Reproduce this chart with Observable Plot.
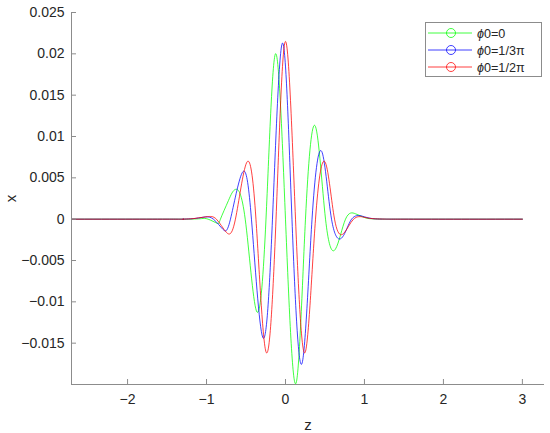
<!DOCTYPE html>
<html><head><meta charset="utf-8">
<script src="https://cdn.jsdelivr.net/npm/d3@7"></script>
<script src="https://cdn.jsdelivr.net/npm/@observablehq/plot@0.6"></script>
<style>
body{margin:0;background:#fff}
#wrap{position:relative;width:550px;height:433px;font-family:"Liberation Sans",Arial,sans-serif}
#legend{position:absolute;left:0;top:0}
</style>
</head><body><div id="wrap"></div>
<script>
const zDomain = [-2.71, 3.28];
const xDomain = [-0.02, 0.025];
const zTicks = [-2, -1, 0, 1, 2, 3];
const xTicks = [-0.015, -0.01, -0.005, 0, 0.005, 0.01, 0.015, 0.02, 0.025];
const seriesNames = ["ϕ0=0", "ϕ0=1/3π", "ϕ0=1/2π"];
const seriesColors = ["#00ff00", "#0000ff", "#ff0000"];

const zGreen = [-3, -1.5, -1.25, -1.15, -1.06, -0.98, -0.866, -0.824, -0.722, -0.634, -0.51, -0.368, -0.247, -0.127, 0.0, 0.131, 0.253, 0.380, 0.507, 0.634, 0.760, 0.887, 1.0, 1.1, 1.25, 1.5, 3.0];
const xGreen = [0, 0, 0, 0.00002, 0.00007, 0, -0.0005, 0, 0.00226, 0.0036, 0, -0.0111, 0, 0.0200, 0, -0.0199, 0, 0.0112, 0, -0.0036, 0, 0.00065, 0.0002, 0.00004, 0, 0, 0];

const zBlue = [-3, -1.5, -1.3, -1.2, -1.1, -1.014, -0.913, -0.790, -0.697, -0.549, -0.431, -0.288, -0.165, -0.038, 0.082, 0.207, 0.336, 0.463, 0.583, 0.719, 0.837, 0.972, 1.1, 1.25, 1.5, 3.0];
const xBlue = [0, 0, 0, 0.00004, 0.00015, 0.00027, 0, -0.00125, 0, 0.0056, 0, -0.0143, 0, 0.0213, 0, -0.0175, 0, 0.0081, 0, -0.0022, 0, 0.00036, 0.00007, 0.00001, 0, 0];

const zRed = [-3, -1.5, -1.3, -1.2, -1.1, -0.989, -0.875, -0.748, -0.634, -0.494, -0.374, -0.245, -0.120, 0.0, 0.127, 0.250, 0.380, 0.507, 0.621, 0.739, 0.862, 0.992, 1.12, 1.27, 1.5, 3.0];
const xRed = [0, 0, 0, 0.00004, 0.00016, 0.0003, 0, -0.0016, 0, 0.0068, 0, -0.0161, 0, 0.0215, 0, -0.0161, 0, 0.0068, 0, -0.0017, 0, 0.00024, 0.00005, 0.00001, 0, 0];

const series = [[zGreen, xGreen], [zBlue, xBlue], [zRed, xRed]];
const data = series.flatMap(([zs, xs], i) => zs.map((z, j) => ({z, x: xs[j], s: seriesNames[i]})));

const axisColor = "#8c8c8c";
const textColor = "#262626";
const font = "'Liberation Sans', Arial, sans-serif";
const fmt = d => String(d).replace("-", "\u2212");

const chart = Plot.plot({
  width: 550,
  height: 433,
  marginLeft: 71,
  marginRight: 6,
  marginTop: 12,
  marginBottom: 49,
  style: {fontSize: "14px", fontFamily: font, background: "white", color: textColor},
  x: {domain: zDomain},
  y: {domain: xDomain},
  color: {domain: seriesNames, range: seriesColors},
  marks: [
    Plot.line(data, {x: "z", y: "x", z: "s", stroke: "s", strokeWidth: 1, strokeOpacity: 0.75, curve: "natural", clip: true}),
    Plot.ruleX([zDomain[0]], {stroke: axisColor}),
    Plot.ruleY([xDomain[0]], {stroke: axisColor}),
    Plot.axisY(xTicks, {tickSize: 5, dx: 5, tickFormat: () => "", label: null, stroke: axisColor}),
    Plot.axisX(zTicks, {tickSize: 5, dy: -5, tickFormat: () => "", label: null, stroke: axisColor}),
    Plot.axisY(xTicks, {tickSize: 0, tickPadding: 7, tickFormat: fmt, label: null, fill: textColor, fontSize: 14}),
    Plot.axisX(zTicks, {tickSize: 0, tickPadding: 10, tickFormat: fmt, label: null, fill: textColor, fontSize: 14}),
    Plot.axisY(xTicks, {tickSize: 0, tickFormat: () => "", label: "x", labelArrow: "none", labelAnchor: "center", labelOffset: 66, fill: textColor, fontSize: 15}),
    Plot.axisX(zTicks, {tickSize: 0, tickFormat: () => "", label: "z", labelArrow: "none", labelAnchor: "center", labelOffset: 45, fill: textColor, fontSize: 15})
  ]
});

const wrap = document.getElementById("wrap");
wrap.appendChild(chart);

// legend
const lg = d3.select(wrap).append("svg").attr("id", "legend").attr("width", 550).attr("height", 100);
lg.append("rect").attr("x", 425.5).attr("y", 22.5).attr("width", 116).attr("height", 54)
  .attr("fill", "white").attr("stroke", axisColor);
seriesNames.forEach((name, i) => {
  const cy = 33 + i * 17;
  lg.append("line").attr("x1", 428).attr("x2", 472).attr("y1", cy).attr("y2", cy)
    .attr("stroke", seriesColors[i]).attr("stroke-opacity", 0.75).attr("stroke-width", 1);
  lg.append("circle").attr("cx", 451).attr("cy", cy).attr("r", 4.5)
    .attr("fill", "none").attr("stroke", seriesColors[i]).attr("stroke-opacity", 0.75).attr("stroke-width", 1);
  const t = lg.append("text").attr("x", 477).attr("y", cy + 4.5)
    .attr("font-size", 12.6).attr("fill", textColor)
    .attr("font-family", font);
  t.append("tspan").attr("font-style", "italic").text(name.slice(0, 1));
  t.append("tspan").text(name.slice(1));
});
</script>
</body></html>
